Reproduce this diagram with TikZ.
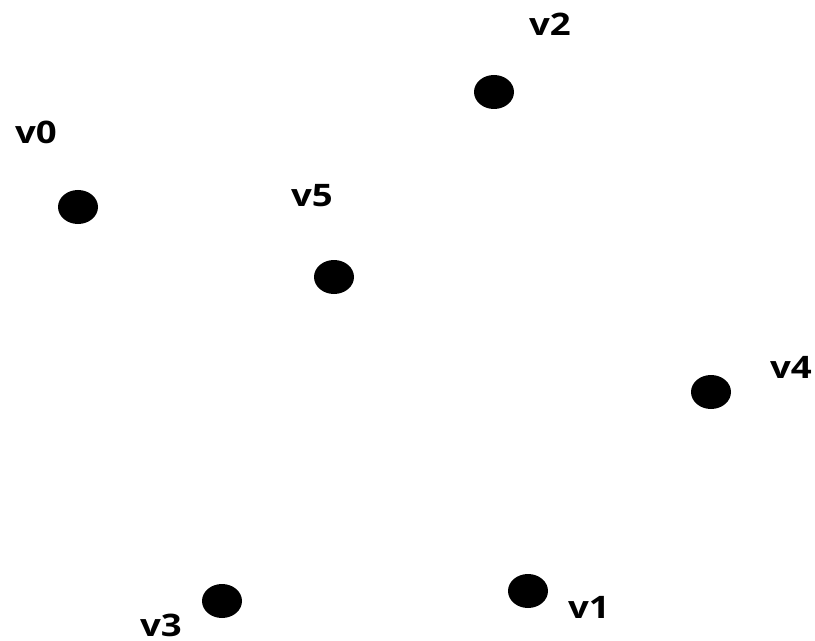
\documentclass[tikz,border=0pt]{standalone}
\usepackage{fontspec}
\setmainfont{Open Sans}
\tikzset{
  vdot/.style={ellipse, fill=black, inner sep=0pt, minimum width=40bp, minimum height=34bp},
  vlabel/.style={anchor=base, inner sep=0pt, font=\fontsize{31bp}{33bp}\selectfont\bfseries}
}
\usetikzlibrary{shapes.geometric}
\newcommand{\wlab}[1]{\scalebox{1.18}[1]{#1}}
\begin{document}
\begin{tikzpicture}[x=1bp,y=-1bp]
\useasboundingbox (0,0) rectangle (815,641);
\node[vdot] (d0) at (78,207) {};
\node[vdot] (d2) at (494,92) {};
\node[vdot] (d5) at (334,277) {};
\node[vdot] (d4) at (711,392) {};
\node[vdot] (d3) at (222,601) {};
\node[vdot] (d1) at (528,591) {};
\node[vlabel] (l0) at (36,144) {\wlab{v0}};
\node[vlabel] (l2) at (550,36) {\wlab{v2}};
\node[vlabel] (l5) at (312,207) {\wlab{v5}};
\node[vlabel] (l4) at (791,378) {\wlab{v4}};
\node[vlabel] (l3) at (161,636) {\wlab{v3}};
\node[vlabel] (l1) at (589,618) {\wlab{v1}};
\end{tikzpicture}
\end{document}
